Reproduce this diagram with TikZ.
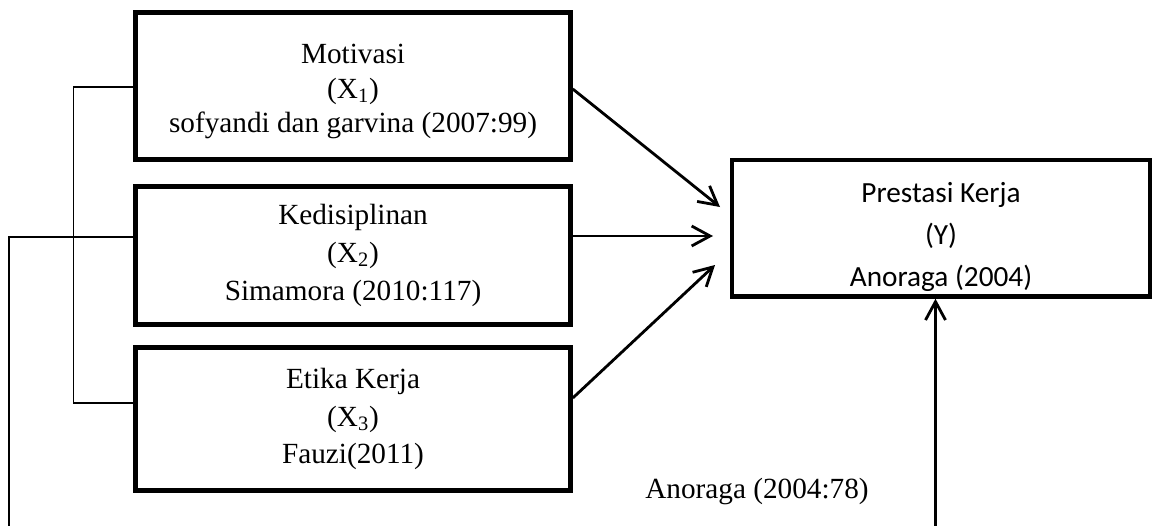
\documentclass[tikz,border=0pt]{standalone}
\usepackage{fontspec}
\setmainfont{Liberation Serif}
\newfontfamily\calibri{Carlito}
\usetikzlibrary{arrows.meta}

\begin{document}
\begin{tikzpicture}[x=0.025cm,y=-0.025cm]
    \tikzstyle{var}=[rectangle,draw,line width=3.2pt,align=center,inner sep=0pt,font=\fontsize{20.8}{24.5}\selectfont]
    \tikzstyle{link}=[line width=1.3pt]
    \tikzstyle{arr}=[line width=2pt,-{Straight Barb[length=0.46cm,width=0.5cm]}]

    \useasboundingbox (0,0) rectangle (1153,526);

    \node[var,minimum width=10.875cm,minimum height=3.675cm] (mot) at (353,86) {\rule{0pt}{22pt}Motivasi\\(X\textsubscript{1})\\sofyandi dan garvina (2007:99)};
    \node[var,minimum width=10.875cm,minimum height=3.45cm,font=\fontsize{20.8}{27.2}\selectfont] (ked) at (353,255.5) {Kedisiplinan\\(X\textsubscript{2})\\Simamora (2010:117)};
    \node[var,minimum width=10.875cm,minimum height=3.575cm,font=\fontsize{20.8}{26.8}\selectfont] (eti) at (353,419) {Etika Kerja\\(X\textsubscript{3})\\Fauzi(2011)};

    \node[var,minimum width=10.45cm,minimum height=3.41cm,font=\calibri\fontsize{20.8}{29.9}\selectfont] (pk) at (941,228.25) {\rule{0pt}{27pt}Prestasi Kerja\\(Y)\\Anoraga (2004)};

    \node[font=\fontsize{20.8}{24}\selectfont] (src) at (757,492) {Anoraga (2004:78)};

    % arrow tips in front of Y
    \coordinate (t1) at (720,207);
    \coordinate (t2) at (713,236);
    \coordinate (t3) at (715,265);
    \foreach \v/\y/\t in {mot/89/t1, ked/236/t2, eti/398/t3}
    \draw[arr] (\v.east |- 0,\y) -- (\t);

    % bracket joining X1 and X3
    \coordinate (b1) at (73.5,87);
    \coordinate (b2) at (73.5,403);
    \draw[link] (mot.west |- b1) -- (b1) -- (b2) -- (eti.west |- b2);

    % outer line from X2 and the arrow from below into Y
    \coordinate (c1) at (9,237);
    \coordinate (c2) at (9,526);
    \draw[link] (ked.west |- c1) -- (c1) -- (c2);
    \coordinate (c3) at (935.5,526);
    \draw[arr] (c3) -- (c3 |- pk.south);
\end{tikzpicture}
\end{document}
